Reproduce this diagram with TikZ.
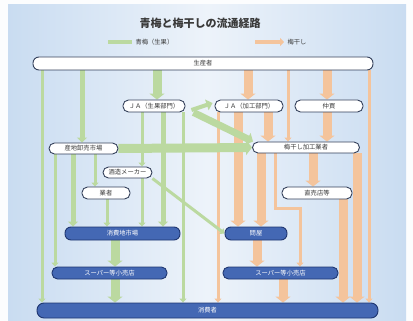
\documentclass[tikz,border=0pt]{standalone}
\usepackage{fontspec}
\newfontfamily\cjk{Noto Sans CJK JP}
\usetikzlibrary{arrows.meta}
\pgfdeclarelayer{bgl}
\pgfdeclarelayer{flow}
\pgfsetlayers{bgl,flow,main}
\definecolor{gr}{HTML}{BBD9A0}
\definecolor{orr}{HTML}{F4C49C}
\definecolor{blu}{HTML}{4468B4}
\definecolor{bluD}{HTML}{1F3670}
\definecolor{nodeb}{HTML}{34405A}
\definecolor{txt}{HTML}{3A3A3A}
\definecolor{bgL}{HTML}{C9DCF1}
\definecolor{bgM}{HTML}{EDF3FA}
\tikzset{
  wn/.style={draw=nodeb, line width=0.9pt, fill=white, rounded corners=5.5pt, inner sep=0pt,
    minimum height=12pt, text=txt, font=\cjk\fontsize{6.3}{7}\selectfont},
  bn/.style={wn, fill=blu, draw=bluD, text=white},
  gt/.style={draw=gr, line width=3pt, -{Triangle[length=4pt,width=7pt]}},
  gm/.style={draw=gr, line width=5pt, -{Triangle[length=5pt,width=10pt]}},
  gw/.style={draw=gr, line width=9pt, -{Triangle[length=6pt,width=15pt]}},
  ot/.style={draw=orr, line width=3pt, -{Triangle[length=4pt,width=7pt]}},
  ow/.style={draw=orr, line width=9pt, -{Triangle[length=6pt,width=15pt]}},
}
\begin{document}
\begin{tikzpicture}[x=1pt,y=-1pt]
\useasboundingbox (0,0) rectangle (413,321);
\begin{pgfonlayer}{bgl}
\fill[white!95!bgL] (0,0) rectangle (413,321);
\shade[left color=bgL, right color=bgL, middle color=bgM] (8,5) rectangle (406,321);
\end{pgfonlayer}

% title and legend
\node[font=\cjk\bfseries\fontsize{11}{13}\selectfont, text=txt] (title) at (200,23) {青梅と梅干しの流通経路};
\node[anchor=west, font=\cjk\fontsize{6.3}{7}\selectfont, text=txt] (lg) at (132,42) {青梅（生果）};
\node[anchor=west, font=\cjk\fontsize{6.3}{7}\selectfont, text=txt] (lo) at (284,42) {梅干し};
\coordinate (lgs) at (108,42);
\coordinate (los) at (255,42);
\draw[draw=gr, line width=4pt] (lgs) -- (lg.west);
\draw[draw=orr, line width=4pt, -{Triangle[length=4pt,width=8pt]}] (los) -- (lo.west);

% nodes
\node[wn, minimum width=340pt, minimum height=13pt, rounded corners=6pt] (prod) at (203,63.5) {生産者};
\node[wn, minimum width=62pt] (jaS) at (154,106) {ＪＡ（生果部門）};
\node[wn, minimum width=68pt] (jaK) at (249,106) {ＪＡ（加工部門）};
\node[wn, minimum width=68pt] (naka) at (329,106) {仲買};
\node[wn, minimum width=107pt, minimum height=11pt] (kako) at (306,147.5) {梅干し加工業者};
\node[wn, minimum width=69pt, minimum height=11pt] (sanchi) at (83.5,148.5) {産地卸売市場};
\node[wn, minimum width=49pt, minimum height=11pt] (shuzo) at (127.5,172.5) {酒造メーカー};
\node[wn, minimum width=48pt] (gyosha) at (106,193) {業者};
\node[wn, minimum width=70pt] (choku) at (317,193) {直売店等};
\node[bn, minimum width=115pt, minimum height=13pt, rounded corners=6pt] (shohi) at (122.5,233.5) {消費地市場};
\node[bn, minimum width=62pt, minimum height=13pt, rounded corners=6pt] (tonya) at (256,233.5) {問屋};
\node[bn, minimum width=115pt] (superL) at (109.5,273) {スーパー等小売店};
\node[bn, minimum width=115pt] (superR) at (280.5,273) {スーパー等小売店};
\node[bn, minimum width=341pt, minimum height=15pt, rounded corners=7pt] (cons) at (207.5,310.5) {消費者};

% column coordinates
\foreach \c in {42,55,73,82,95,107,115,142,157,163,183,218,238,248,257,261,268,283,288,313,327,343,357,369}
  \coordinate (c\c) at (\c,0);
\coordinate (bend1) at (275,208);
\coordinate (bend2) at (300,208);

\begin{pgfonlayer}{flow}
% orange flows
\draw[ow] (prod.south -| c248) -- (jaK.north -| c248);
\draw[ot] (prod.south -| c288) -- (kako.north -| c288);
\draw[ow] (prod.south -| c327) -- (naka.north -| c327);
\draw[ot] (prod.south -| c369) -- (cons.north -| c369);
\draw[ot] (jaK.south -| c218) -- (cons.north -| c218);
\draw[ow] (jaK.south -| c238) -- (tonya.north -| c238);
\draw[ow] (jaK.south -| c268) -- (kako.north -| c268);
\draw[ow] (naka.south -| c327) -- (kako.north -| c327);
\draw[ow] (kako.south -| c261) -- (tonya.north -| c261);
\draw[ot] (kako.south -| bend1) -- (bend1) -- (bend2) -- (superR.north -| bend2);
\draw[ow] (kako.south -| c313) -- (choku.north -| c313);
\draw[ow] (choku.south -| c343) -- (cons.north -| c343);
\draw[ow] (kako.south -| c357) -- (cons.north -| c357);
\draw[ow] (tonya.south -| c257) -- (superR.north -| c257);
\draw[ow] (superR.south -| c283) -- (cons.north -| c283);

% green flows
\draw[gt] (prod.south -| c42) -- (cons.north -| c42);
\draw[gm] (prod.south -| c82) -- (sanchi.north -| c82);
\draw[gw] (prod.south -| c157) -- (jaS.north -| c157);
\draw[gt] (sanchi.south -| c55) -- (superL.north -| c55);
\draw[gm] (sanchi.south -| c73) -- (shohi.north -| c73);
\draw[gt] (sanchi.south -| c95) -- (gyosha.north -| c95);
\draw[gt] (gyosha.south -| c107) -- (shohi.north -| c107);
\draw[gt] (jaS.south -| c142) -- (shuzo.north -| c142);
\draw[gt] (shuzo.south -| c142) -- (shohi.north -| c142);
\draw[gm] (jaS.south -| c163) -- (shohi.north -| c163);
\draw[gt] (jaS.south -| c183) -- (cons.north -| c183);
\draw[gw] (shohi.south -| c115) -- (superL.north -| c115);
\draw[gw] (superL.south -| c115) -- (cons.north -| c115);
\draw[gw] (sanchi.east) -- (kako.west);
\draw[draw=gr, line width=7pt, -{Triangle[length=6pt,width=13pt]}] ([xshift=8pt]jaS.south east) -- ([xshift=1pt]kako.north west);
\draw[draw=gr, line width=4pt, -{Triangle[length=6pt,width=11pt]}] ([xshift=6pt,yshift=-4pt]jaS.east) -- ([xshift=-2pt,yshift=3pt]jaK.west);
\draw[gt] (shuzo.south east) -- (tonya.west);
\end{pgfonlayer}
\end{tikzpicture}
\end{document}
